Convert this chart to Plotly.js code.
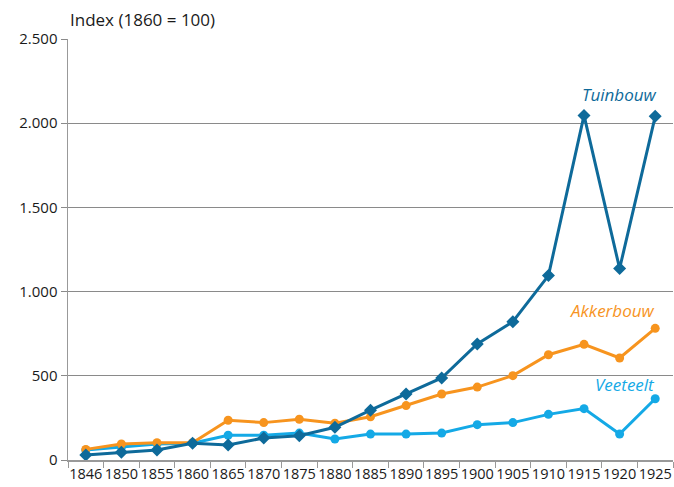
<!DOCTYPE html>
<html>
<head>
<meta charset="utf-8">
<script src="https://cdn.plot.ly/plotly-3.0.1.min.js"></script>
<style>html,body{margin:0;padding:0;background:#fff;}#chart{width:674px;height:487px;}</style>
</head>
<body>
<div id="chart"></div>
<script>
const years = ['1846','1850','1855','1860','1865','1870','1875','1880','1885','1890','1895','1900','1905','1910','1915','1920','1925'];
const tuinbouw = [30,46,59,100,89,131,144,194,296,392,487,689,821,1095,2046,1137,2041];
const akkerbouw = [63,95,103,103,236,222,242,218,257,323,392,433,501,625,687,606,782];
const veeteelt = [59,75,95,100,147,147,160,125,154,154,160,210,222,271,305,154,364];
const yTicks = [0,500,1000,1500,2000,2500];

const cTuin = '#0e6a9a', cAkker = '#f7941e', cVee = '#14a9e6';
const fontFam = '"Open Sans", "Lato", sans-serif';

const traces = [
  {x: years, y: veeteelt, name: 'Veeteelt', type: 'scatter', mode: 'lines+markers',
   line: {color: cVee, width: 3}, marker: {symbol: 'circle', size: 9, color: cVee}},
  {x: years, y: akkerbouw, name: 'Akkerbouw', type: 'scatter', mode: 'lines+markers',
   line: {color: cAkker, width: 3}, marker: {symbol: 'circle', size: 9, color: cAkker}},
  {x: years, y: tuinbouw, name: 'Tuinbouw', type: 'scatter', mode: 'lines+markers',
   line: {color: cTuin, width: 3}, marker: {symbol: 'diamond', size: 10, color: cTuin}}
];

const layout = {
  width: 674, height: 487,
  margin: {l: 68, r: 1, t: 39, b: 27, pad: 0},
  paper_bgcolor: '#fff', plot_bgcolor: '#fff',
  separators: ',.',
  showlegend: false,
  font: {family: fontFam, size: 14, color: '#1a1a1a'},
  xaxis: {
    type: 'category', categoryorder: 'array', categoryarray: years,
    showgrid: false, zeroline: false,
    showline: true, linecolor: '#999', linewidth: 1.5,
    ticks: 'outside', tickson: 'boundaries', ticklen: 6, tickcolor: '#999', tickwidth: 1,
    tickangle: 0, tickfont: {family: fontFam, size: 14.5, color: '#1a1a1a'},
    range: [-0.5, years.length - 0.5]
  },
  yaxis: {
    range: [0, 2500], tickvals: yTicks, tickformat: ',d',
    showgrid: true, gridcolor: '#8a8a8a', gridwidth: 1,
    zeroline: false, showline: true, linecolor: '#999', linewidth: 1.5,
    ticks: 'outside', ticklen: 6, tickcolor: '#8a8a8a',
    tickfont: {family: fontFam, size: 15, color: '#1a1a1a'}
  },
  annotations: [
    {text: 'Index (1860 = 100)', xref: 'paper', yref: 'paper', x: 0, y: 1.046,
     xanchor: 'left', yanchor: 'middle', showarrow: false,
     font: {family: fontFam, size: 17, color: '#1a1a1a'}},
    {text: '<i>Tuinbouw</i>', xref: 'paper', yref: 'y', x: 0.912, y: 2173,
     xanchor: 'center', yanchor: 'middle', showarrow: false,
     font: {family: fontFam, size: 17, color: cTuin}},
    {text: '<i>Akkerbouw</i>', xref: 'paper', yref: 'y', x: 0.9, y: 885,
     xanchor: 'center', yanchor: 'middle', showarrow: false,
     font: {family: fontFam, size: 17, color: cAkker}},
    {text: '<i>Veeteelt</i>', xref: 'paper', yref: 'y', x: 0.92, y: 451,
     xanchor: 'center', yanchor: 'middle', showarrow: false,
     font: {family: fontFam, size: 17, color: cVee}}
  ]
};

Plotly.newPlot('chart', traces, layout, {displayModeBar: false, staticPlot: true});
</script>
</body>
</html>
